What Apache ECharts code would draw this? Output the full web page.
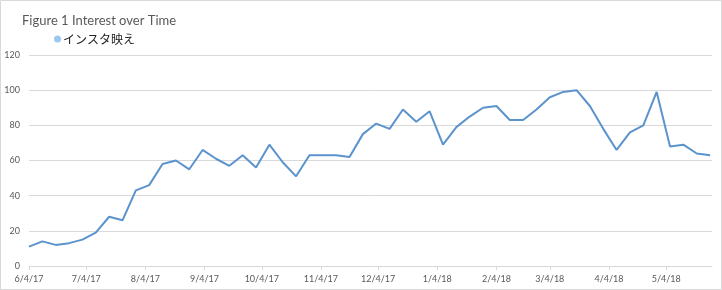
<!DOCTYPE html>
<html>
<head>
<meta charset="utf-8">
<script src="https://cdn.jsdelivr.net/npm/echarts@6/dist/echarts.min.js"></script>
<style>
html,body{margin:0;padding:0;background:#fff;}
#chart{width:722px;height:290px;}
</style>
</head>
<body>
<div id="chart"></div>
<script>
const titleText = 'Figure 1 Interest over Time';
const seriesName = 'インスタ映え';
const weeks = [
 '2017-06-04','2017-06-11','2017-06-18','2017-06-25',
 '2017-07-02','2017-07-09','2017-07-16','2017-07-23','2017-07-30',
 '2017-08-06','2017-08-13','2017-08-20','2017-08-27',
 '2017-09-03','2017-09-10','2017-09-17','2017-09-24',
 '2017-10-01','2017-10-08','2017-10-15','2017-10-22','2017-10-29',
 '2017-11-05','2017-11-12','2017-11-19','2017-11-26',
 '2017-12-03','2017-12-10','2017-12-17','2017-12-24','2017-12-31',
 '2018-01-07','2018-01-14','2018-01-21','2018-01-28',
 '2018-02-04','2018-02-11','2018-02-18','2018-02-25',
 '2018-03-04','2018-03-11','2018-03-18','2018-03-25',
 '2018-04-01','2018-04-08','2018-04-15','2018-04-22','2018-04-29',
 '2018-05-06','2018-05-13','2018-05-20','2018-05-27'
];
const interest = [
 11,14,12,13,15,19,28,26,43,46,58,60,55,
 66,61,57,63,56,69,59,51,63,63,63,62,75,
 81,78,89,82,88,69,79,85,90,91,83,83,
 89,96,99,100,91,78,66,76,80,99,68,69,64,63
];
const tickDates = ['2017-06-04','2017-07-04','2017-08-04','2017-09-04','2017-10-04','2017-11-04',
 '2017-12-04','2018-01-04','2018-02-04','2018-03-04','2018-04-04','2018-05-04'];
const tickLabels = ['6/4/17','7/4/17','8/4/17','9/4/17','10/4/17','11/4/17',
 '12/4/17','1/4/18','2/4/18','3/4/18','4/4/18','5/4/18'];
const yTicks = [0,20,40,60,80,100,120];
const axisMinDate = '2017-06-04';
const axisMaxDate = '2018-05-28';

const DAY = 86400000;
function dayNum(s){ const p = s.split('-').map(Number); return Math.round(Date.UTC(p[0], p[1]-1, p[2]) / DAY); }
const tickDays = tickDates.map(dayNum);
const labelMap = {};
tickDays.forEach((t,i)=>{ labelMap[t] = tickLabels[i]; });

const chart = echarts.init(document.getElementById('chart'), null, {renderer:'canvas'});
chart.setOption({
  animation:false,
  backgroundColor:'#fff',
  title:{
    text:titleText, left:17, top:9,
    textStyle:{fontFamily:'Lato', fontSize:13, fontWeight:'normal', color:'#595959'}
  },
  legend:{
    data:[{name:seriesName, icon:'circle'}],
    left:49, top:28, itemWidth:7, itemHeight:7, itemGap:5,
    textStyle:{fontFamily:'Noto Sans CJK JP', fontSize:12, color:'#222', padding:[0,0,0,-3]}
  },
  grid:{left:29, right:10, top:55, bottom:24, containLabel:false},
  xAxis:{
    type:'value',
    min:dayNum(axisMinDate), max:dayNum(axisMaxDate),
    axisLine:{lineStyle:{color:'#d9d9d9'}},
    axisTick:{show:true, length:4, lineStyle:{color:'#d9d9d9'}, customValues:tickDays},
    axisLabel:{customValues:tickDays, formatter:function(v){ return labelMap[Math.round(v)] || ''; },
      color:'#595959', fontFamily:'Lato', fontSize:9, margin:9, hideOverlap:false,
      showMinLabel:true, showMaxLabel:true},
    splitLine:{show:false}
  },
  yAxis:{
    type:'value', min:yTicks[0], max:yTicks[yTicks.length-1], interval:20,
    axisLine:{show:false}, axisTick:{show:false},
    axisLabel:{color:'#595959', fontFamily:'Lato', fontSize:9, margin:9},
    splitLine:{lineStyle:{color:'#d9d9d9', width:1}}
  },
  series:[{
    name:seriesName, type:'line',
    data:weeks.map((d,i)=>[dayNum(d), interest[i]]),
    showSymbol:false, symbol:'none',
    lineStyle:{color:'#5b93cd', width:2},
    itemStyle:{color:'#9cc8f0'}
  }],
  graphic:[{
    type:'rect', silent:true, z:-1,
    shape:{x:0.5, y:0.5, width:721, height:289},
    style:{fill:null, stroke:'#d9d9d9', lineWidth:1}
  }]
});
</script>
</body>
</html>
